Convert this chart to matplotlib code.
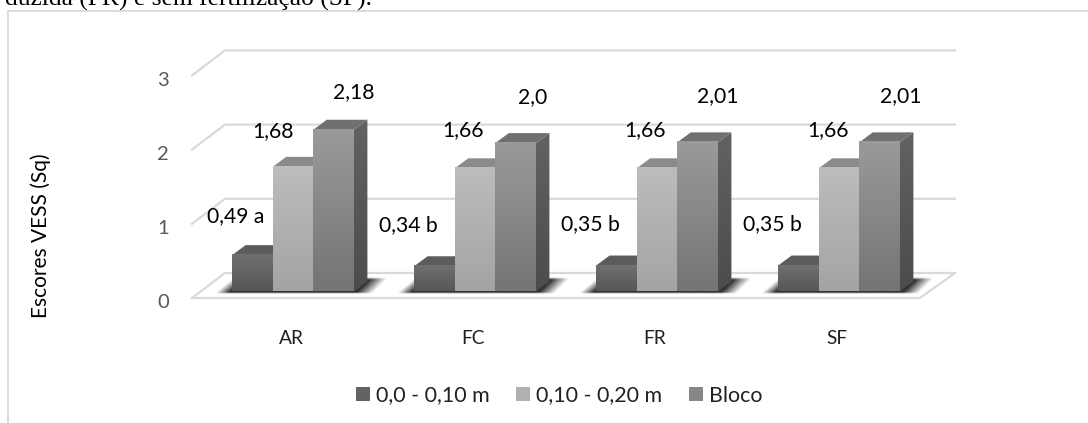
#!/usr/bin/env python3
"""Pseudo-3D clustered bars of VESS scores per fertilisation treatment."""

import matplotlib
matplotlib.use("Agg")
import matplotlib.pyplot as plt
import numpy as np
from matplotlib.patches import Patch, Polygon

categories = ["AR", "FC", "FR", "SF"]
series_names = ["0,0 - 0,10 m", "0,10 - 0,20 m", "Bloco"]
layer_0_10 = [0.49, 0.34, 0.35, 0.35]
layer_10_20 = [1.68, 1.66, 1.66, 1.66]
block = [2.18, 2.00, 2.01, 2.01]
labels_0_10 = ["0,49 a", "0,34 b", "0,35 b", "0,35 b"]
labels_10_20 = ["1,68", "1,66", "1,66", "1,66"]
labels_block = ["2,18", "2,0", "2,01", "2,01"]
y_ticks = [0, 1, 2, 3]

plt.rcParams["font.family"] = ["Lato", "DejaVu Sans"]

W, H = 1088, 423
PX_X, PX_Y = 182.0, 74.2       # pixels per category / per score unit
X0, Y0 = 293.0, 291.5          # pixel position of first group centre, score 0
BAR_W = 40.6 / PX_X
DEPTH_X, DEPTH_Y = 13.5 / PX_X, 10.0 / PX_Y
FRONT_CORNER, BACK_CORNER, RIGHT_BACK = 192, 225, 955
GRID = "#d9d9d9"

front_colors = [("#707070", "#565656"), ("#bcbcbc", "#a4a4a4"), ("#9a9a9a", "#747474")]
top_colors = ["#5c5c5c", "#8a8a8a", "#707070"]
side_colors = [("#555555", "#464646"), ("#6a6a6a", "#555555"), ("#626262", "#4c4c4c")]


def px(x):
    return (x - X0) / PX_X


def py(y):
    return (Y0 - y) / PX_Y


def gradient(ax, x0, x1, y0, y1, top, bottom, zorder, clip=None):
    ramp = np.linspace(0, 1, 64)[:, None, None]
    c0 = np.array(matplotlib.colors.to_rgb(top))
    c1 = np.array(matplotlib.colors.to_rgb(bottom))
    im = ax.imshow(c0 * (1 - ramp) + c1 * ramp, extent=(x0, x1, y0, y1), origin="upper",
                   aspect="auto", zorder=zorder, interpolation="bilinear")
    if clip is not None:
        im.set_clip_path(clip)
    return im


fig = plt.figure(figsize=(W / 100, H / 100), dpi=100)
ax = fig.add_axes([0, 0, 1, 1])

# frame of the pasted chart and the cropped caption above it
ax.plot([px(8), px(8), px(W)], [py(H), py(11), py(11)], color=GRID, lw=1.3, zorder=1)
ax.text(px(372), py(6), "duzida (FR) e sem fertilização (SF).", family="Liberation Serif",
        fontsize=18.4, color="black", ha="right", va="baseline", zorder=1)

# back wall gridlines with their slanted left end
for tick in y_ticks:
    back = py(Y0 - 18.5) + tick
    front = py(Y0 + 6.5) + tick
    ax.plot([px(FRONT_CORNER), px(BACK_CORNER), px(RIGHT_BACK)], [front, back, back],
            color=GRID, lw=1.6, zorder=1, solid_joinstyle="miter")
    ax.text(px(163), tick + py(Y0 + 11.5), str(tick), ha="center", va="center", fontsize=14.5, color="#595959")
# front edge of the floor
ax.plot([px(FRONT_CORNER), px(920), px(RIGHT_BACK)],
        [py(Y0 + 6.5), py(Y0 + 6.5), py(Y0 - 18.5)], color=GRID, lw=1.6, zorder=1)

series = [layer_0_10, layer_10_20, block]
for g in range(len(categories)):
    # soft floor shadow behind the group, skewed along the depth direction
    sx0, sx1 = g - 76 / PX_X, g + 93 / PX_X
    yy, xx = np.mgrid[0:1:40j, 0:1:200j]
    left = np.clip((xx + 0.02 - 0.12 * (1 - yy)) / 0.08, 0, 1)
    right = np.clip((0.92 + 0.10 * (1 - yy) - xx) / 0.10, 0, 1)
    alpha = left * right * np.clip(yy / 0.15, 0, 1) * np.clip((1 - yy) / 0.10, 0, 1)
    rgba = np.zeros((40, 200, 4))
    rgba[..., :3] = 0.15
    rgba[..., 3] = alpha * 0.95
    ax.imshow(rgba, extent=(sx0, sx1, py(Y0 + 3), py(Y0 - 14)), origin="upper", aspect="auto",
              zorder=2, interpolation="bilinear")

    for s, values in enumerate(series):
        v = values[g]
        x0 = g + (s - 1.5) * BAR_W
        x1 = x0 + BAR_W
        # side face, then top face, then the front
        side = Polygon([(x1, 0), (x1 + DEPTH_X, DEPTH_Y), (x1 + DEPTH_X, v + DEPTH_Y), (x1, v)],
                       transform=ax.transData, fc="none", ec="none")
        ax.add_patch(side)
        gradient(ax, x1, x1 + DEPTH_X, 0, v + DEPTH_Y, *side_colors[s], 3 + s, clip=side)
        ax.add_patch(Polygon([(x0, v), (x0 + DEPTH_X, v + DEPTH_Y), (x1 + DEPTH_X, v + DEPTH_Y), (x1, v)],
                             fc=top_colors[s], ec="none", zorder=3 + s))
        gradient(ax, x0, x1, 0, v, *front_colors[s], 3.5 + s)

# value labels sit beside the bars, placed by hand as in the source chart (pixel offsets)
low_dx = [-17, -26, -26, -26]
low_dy = [39, 41, 41, 41]
mid_dx = [-20, -12, -12, -11]
mid_dy = [36, 38, 38, 38]
high_dx = [20, 17, 20, 21]
high_dy = [38, 46, 46, 46]
label_rows = [(labels_0_10, low_dx, low_dy), (labels_10_20, mid_dx, mid_dy), (labels_block, high_dx, high_dy)]
for s, (texts, dxs, dys) in enumerate(label_rows):
    for g, text in enumerate(texts):
        ax.text(g + (s - 1) * BAR_W + dxs[g] / PX_X, series[s][g] + dys[g] / PX_Y, text,
                ha="center", va="center", fontsize=15.2, color="black", zorder=8)

for g, name in enumerate(categories):
    ax.text(g - 2 / PX_X, py(338), name, ha="center", va="center", fontsize=13.8, color="#202020")

ax.text(px(41), py(236), "Escores VESS (Sq)", rotation=90, ha="center", va="center",
        fontsize=15, color="black")

handles = [Patch(fc=c, ec="none") for c in ("#636363", "#b0b0b0", "#878787")]
ax.legend(handles, series_names, loc="center left", bbox_to_anchor=(356 / W, 1 - 395.5 / H), ncols=3,
          frameon=False, fontsize=15.4, handlelength=0.65, handleheight=0.65, handletextpad=0.28,
          columnspacing=1.25, labelcolor="#202020", borderpad=0, borderaxespad=0)

ax.set_xlim(px(0), px(W))
ax.set_ylim(py(H), py(0))
ax.axis("off")
fig.savefig("out.png", dpi=100, facecolor="white")
plt.close(fig)
